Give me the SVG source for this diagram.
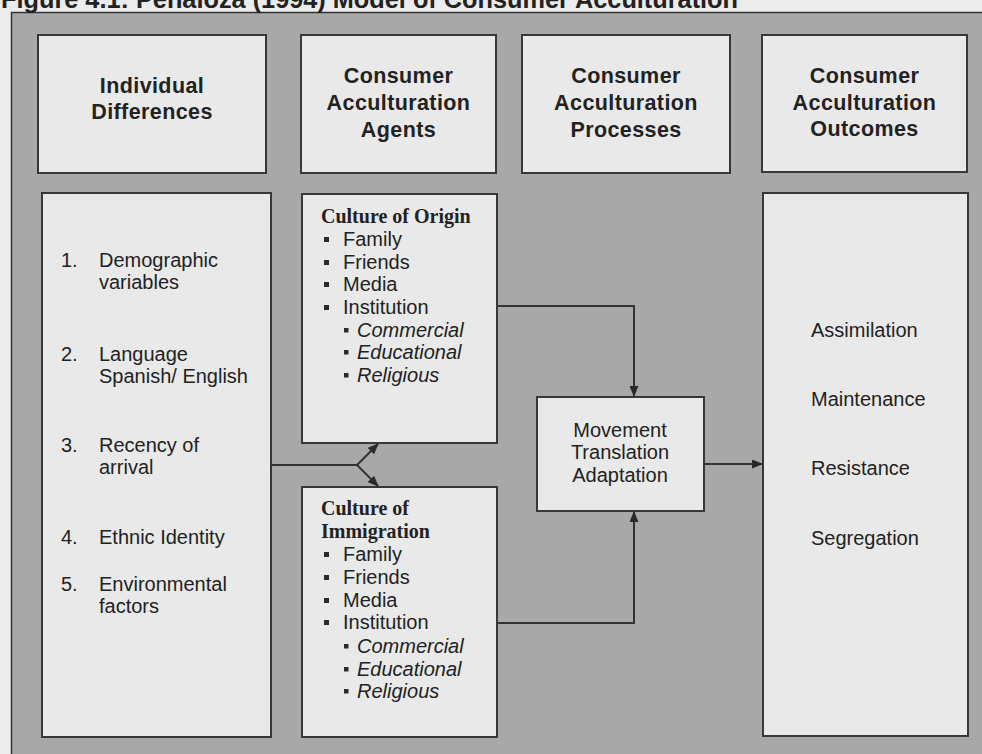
<svg xmlns="http://www.w3.org/2000/svg" width="982" height="754" viewBox="0 0 982 754">
  <style>
    .box { fill: #e9e9e9; stroke: #383838; stroke-width: 2; }
    .head { font-family: "Liberation Sans", Arial, sans-serif; font-weight: bold; font-size: 21.5px; letter-spacing: 0.4px; fill: #222; text-anchor: middle; }
    .body { font-family: "Liberation Sans", Arial, sans-serif; font-size: 20px; fill: #222; }
    .ital { font-style: italic; }
    .serif { font-family: "Liberation Serif", "Times New Roman", serif; font-weight: bold; font-size: 20px; fill: #222; }
    .mid { text-anchor: middle; }
    .bullet { fill: #2a2a2a; }
    .conn { fill: none; stroke: #333; stroke-width: 2; }
  </style>
  <defs>
    <marker id="arrow" markerUnits="userSpaceOnUse" markerWidth="11" markerHeight="9" refX="10" refY="4.5" orient="auto">
      <path d="M0,0 L11,4.5 L0,9 z" fill="#2a2a2a"/>
    </marker>
  </defs>

  <!-- page and shaded panel -->
  <rect x="0" y="0" width="982" height="754" fill="#ececec"/>
  <rect x="11.5" y="12.5" width="1000" height="800" fill="#a8a8a8" stroke="#333" stroke-width="1.5"/>
  <text x="1" y="8" font-family="'Liberation Sans', Arial, sans-serif" font-weight="bold" font-size="25.3" fill="#222">Figure 4.1: Penaloza (1994) Model of Consumer Acculturation</text>

  <!-- column headings -->
  <g id="head-differences">
    <rect class="box" x="38" y="35" width="228" height="138"/>
    <text class="head" x="152" y="93">Individual</text>
    <text class="head" x="152" y="119">Differences</text>
  </g>
  <g id="head-agents">
    <rect class="box" x="301" y="35" width="195" height="138"/>
    <text class="head" x="398.5" y="83">Consumer</text>
    <text class="head" x="398.5" y="110">Acculturation</text>
    <text class="head" x="398.5" y="137">Agents</text>
  </g>
  <g id="head-processes">
    <rect class="box" x="522" y="35" width="208" height="138"/>
    <text class="head" x="626" y="83">Consumer</text>
    <text class="head" x="626" y="110">Acculturation</text>
    <text class="head" x="626" y="137">Processes</text>
  </g>
  <g id="head-outcomes">
    <rect class="box" x="762" y="35" width="205" height="137"/>
    <text class="head" x="864.5" y="83">Consumer</text>
    <text class="head" x="864.5" y="110">Acculturation</text>
    <text class="head" x="864.5" y="136">Outcomes</text>
  </g>

  <!-- individual differences list -->
  <g id="differences" class="body">
    <rect class="box" x="42" y="193" width="229" height="544"/>
    <text x="61" y="267">1.</text>
    <text x="99" y="267">Demographic</text>
    <text x="99" y="289">variables</text>
    <text x="61" y="361">2.</text>
    <text x="99" y="361">Language</text>
    <text x="99" y="383">Spanish/ English</text>
    <text x="61" y="452">3.</text>
    <text x="99" y="452">Recency of</text>
    <text x="99" y="474">arrival</text>
    <text x="61" y="544">4.</text>
    <text x="99" y="544">Ethnic Identity</text>
    <text x="61" y="591">5.</text>
    <text x="99" y="591">Environmental</text>
    <text x="99" y="613">factors</text>
  </g>

  <!-- agents: culture of origin -->
  <g id="culture-origin">
    <rect class="box" x="302" y="194" width="195" height="249"/>
    <text class="serif" x="321" y="223">Culture of Origin</text>
    <g class="bullet">
      <rect x="324" y="237" width="5" height="5"/>
      <rect x="324" y="260" width="5" height="5"/>
      <rect x="324" y="282" width="5" height="5"/>
      <rect x="324" y="305" width="5" height="5"/>
      <rect x="344" y="328" width="4.5" height="4.5"/>
      <rect x="344" y="350" width="4.5" height="4.5"/>
      <rect x="344" y="373" width="4.5" height="4.5"/>
    </g>
    <g class="body">
      <text x="343" y="246">Family</text>
      <text x="343" y="269">Friends</text>
      <text x="343" y="291">Media</text>
      <text x="343" y="314">Institution</text>
      <text class="ital" x="357" y="337">Commercial</text>
      <text class="ital" x="357" y="359">Educational</text>
      <text class="ital" x="357" y="382">Religious</text>
    </g>
  </g>

  <!-- agents: culture of immigration -->
  <g id="culture-immigration">
    <rect class="box" x="302" y="487" width="195" height="250"/>
    <text class="serif" x="321" y="515">Culture of</text>
    <text class="serif" x="321" y="538">Immigration</text>
    <g class="bullet">
      <rect x="324" y="552" width="5" height="5"/>
      <rect x="324" y="575" width="5" height="5"/>
      <rect x="324" y="598" width="5" height="5"/>
      <rect x="324" y="620" width="5" height="5"/>
      <rect x="344" y="644" width="4.5" height="4.5"/>
      <rect x="344" y="667" width="4.5" height="4.5"/>
      <rect x="344" y="689" width="4.5" height="4.5"/>
    </g>
    <g class="body">
      <text x="343" y="561">Family</text>
      <text x="343" y="584">Friends</text>
      <text x="343" y="607">Media</text>
      <text x="343" y="629">Institution</text>
      <text class="ital" x="357" y="653">Commercial</text>
      <text class="ital" x="357" y="676">Educational</text>
      <text class="ital" x="357" y="698">Religious</text>
    </g>
  </g>

  <!-- processes -->
  <g id="processes" class="body mid">
    <rect class="box" x="537" y="397" width="167" height="114"/>
    <text x="620" y="437">Movement</text>
    <text x="620" y="459">Translation</text>
    <text x="620" y="482">Adaptation</text>
  </g>

  <!-- outcomes -->
  <g id="outcomes" class="body">
    <rect class="box" x="763" y="193" width="205" height="543"/>
    <text x="811" y="337">Assimilation</text>
    <text x="811" y="406">Maintenance</text>
    <text x="811" y="475">Resistance</text>
    <text x="811" y="545">Segregation</text>
  </g>

  <!-- connectors -->
  <g id="connectors" class="conn">
    <path d="M271,465 H357"/>
    <path d="M357,465 L378,444" marker-end="url(#arrow)"/>
    <path d="M357,465 L378,486" marker-end="url(#arrow)"/>
    <path d="M497,306 H634 V396" marker-end="url(#arrow)"/>
    <path d="M497,623 H634 V512" marker-end="url(#arrow)"/>
    <path d="M704,464 H762" marker-end="url(#arrow)"/>
  </g>
</svg>
